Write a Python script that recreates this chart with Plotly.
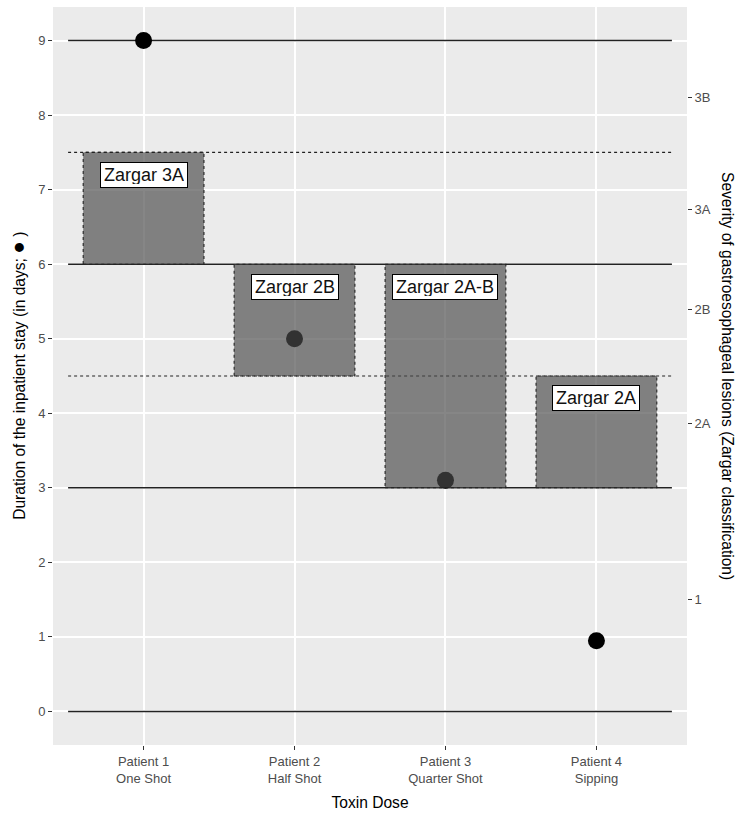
import plotly.graph_objects as go

# ---- data ----
patients = ["Patient 1<br>One Shot", "Patient 2<br>Half Shot",
            "Patient 3<br>Quarter Shot", "Patient 4<br>Sipping"]
x_pos = [1, 2, 3, 4]
stay_days = [9, 5, 3.1, 0.95]
lesion_low = [6, 4.5, 3, 3]
lesion_high = [7.5, 6, 6, 4.5]
lesion_labels = ["Zargar 3A", "Zargar 2B", "Zargar 2A-B", "Zargar 2A"]
solid_levels = [0, 3, 6, 9]
dotted_levels = [4.5, 7.5]
left_ticks = [0, 1, 2, 3, 4, 5, 6, 7, 8, 9]
sec_tick_vals = [1.5, 3.86, 5.39, 6.73, 8.24]
sec_tick_text = ["1", "2A", "2B", "3A", "3B"]

BAR_W = 0.8
HALF = BAR_W / 2
LABEL_OFFSET = 0.3
FONT = "Liberation Sans, Arial, sans-serif"
YR = [-0.45, 9.45]

fig = go.Figure()

# reference lines
x0, x1 = min(x_pos) - 0.5, max(x_pos) + 0.5
for lv in solid_levels:
    fig.add_trace(go.Scatter(x=[x0, x1], y=[lv, lv], mode="lines",
                             line=dict(color="#222222", width=1.6),
                             hoverinfo="skip", showlegend=False))
for lv in dotted_levels:
    fig.add_trace(go.Scatter(x=[x0, x1], y=[lv, lv], mode="lines",
                             line=dict(color="#222222", width=1.2, dash="dot"),
                             hoverinfo="skip", showlegend=False))

# points (under the bars)
fig.add_trace(go.Scatter(x=x_pos, y=stay_days, mode="markers",
                         marker=dict(color="black", size=17),
                         showlegend=False))

# bars as filled polygons (drawn over points)
for xp, lo, hi in zip(x_pos, lesion_low, lesion_high):
    fig.add_trace(go.Scatter(
        x=[xp - HALF, xp + HALF, xp + HALF, xp - HALF, xp - HALF],
        y=[lo, lo, hi, hi, lo], mode="lines", fill="toself",
        fillcolor="rgba(75,75,75,0.67)",
        line=dict(color="#222222", width=1.1, dash="dot"),
        hoverinfo="skip", showlegend=False))

# invisible trace for secondary axis
fig.add_trace(go.Scatter(x=[x_pos[0]], y=[stay_days[0]], yaxis="y2",
                         mode="markers", marker=dict(opacity=0),
                         hoverinfo="skip", showlegend=False))

# labels
for xp, hi, txt in zip(x_pos, lesion_high, lesion_labels):
    fig.add_annotation(x=xp, y=hi - LABEL_OFFSET, text=txt, showarrow=False,
                       font=dict(family=FONT, size=18, color="#111111"),
                       bgcolor="white", bordercolor="black", borderwidth=1,
                       borderpad=3, height=18,
                       xanchor="center", yanchor="middle")

# axis titles
fig.add_annotation(text="Duration of the inpatient stay (in days; "
                        "<span style='font-size:21px'>\u25CF</span> )",
                   xref="paper", yref="paper", x=-0.057, y=0.5,
                   textangle=-90, showarrow=False, xanchor="center",
                   yanchor="middle",
                   font=dict(family=FONT, size=15.6, color="black"))
fig.add_annotation(text="Severity of gastroesophageal lesions (Zargar classification)",
                   xref="paper", yref="paper", x=1.0647, y=0.5,
                   textangle=90, showarrow=False, xanchor="center",
                   yanchor="middle",
                   font=dict(family=FONT, size=15.6, color="black"))

fig.update_layout(
    width=750, height=819,
    margin=dict(l=53, r=63, t=7, b=74),
    paper_bgcolor="white", plot_bgcolor="#EBEBEB",
    font=dict(family=FONT),
    xaxis=dict(range=[0.4, 4.6], tickvals=x_pos, ticktext=patients,
               showgrid=True, gridcolor="white", gridwidth=1.5,
               zeroline=False, ticks="outside", ticklen=4, automargin=False,
               tickcolor="#333333", tickfont=dict(size=13, color="#4D4D4D"),
               title=dict(text="Toxin Dose", standoff=12,
                          font=dict(size=15.6, color="black"))),
    yaxis=dict(range=YR, tickvals=left_ticks, showgrid=True, automargin=False,
               gridcolor="white", gridwidth=1.5, zeroline=False,
               ticks="outside", ticklen=4, tickcolor="#333333",
               tickfont=dict(size=13, color="#4D4D4D")),
    yaxis2=dict(range=YR, overlaying="y", side="right", automargin=False,
                tickvals=sec_tick_vals, ticktext=sec_tick_text,
                showgrid=False, zeroline=False, ticks="outside", ticklen=4,
                tickcolor="#333333",
                tickfont=dict(size=13, color="#4D4D4D")),
)

fig.write_html("out.html", config={"displayModeBar": False},
               post_script="document.body.style.margin='0';"
                           "document.body.style.overflow='hidden';")
